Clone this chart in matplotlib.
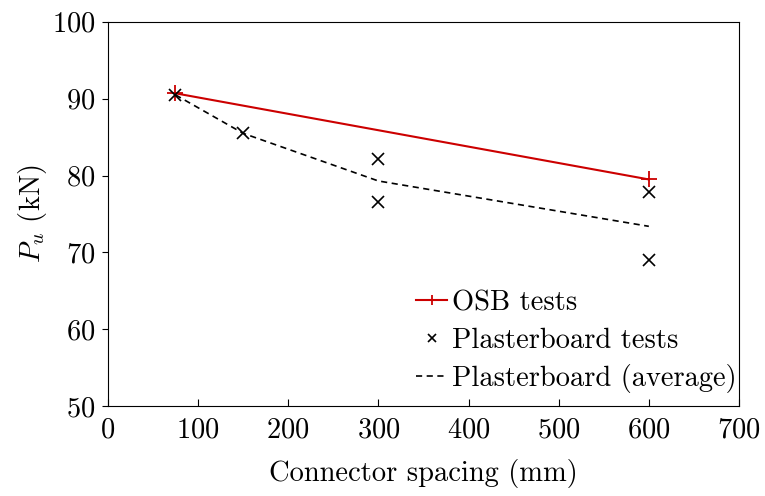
import matplotlib
matplotlib.use("Agg")
import matplotlib.pyplot as plt

plt.rcParams["font.family"] = "serif"
plt.rcParams["font.serif"] = ["cmr10"]
plt.rcParams["mathtext.fontset"] = "cm"
plt.rcParams["axes.formatter.use_mathtext"] = True
plt.rcParams["font.size"] = 20.5

# Ultimate load against connector spacing
osb_spacing = [75, 600]
osb_pu = [90.7, 79.5]

pb_spacing = [75, 150, 300, 300, 600, 600]
pb_pu = [90.5, 85.5, 82.1, 76.5, 77.8, 69.0]

avg_spacing = [75, 150, 300, 600]
avg_pu = [90.5, 85.5, 79.3, 73.4]

fig, ax = plt.subplots(figsize=(7.65, 4.96), dpi=100)

ax.plot(osb_spacing, osb_pu, color="#cc0000", lw=1.5, marker="+", ms=12,
        mew=1.3, label="OSB tests")
ax.plot(pb_spacing, pb_pu, ls="none", color="black", marker="x", ms=9,
        mew=1.2, label="Plasterboard tests")
ax.plot(avg_spacing, avg_pu, color="black", ls=(0, (3.7, 2.7)), lw=1.2,
        label="Plasterboard (average)")

ax.set_xlim(0, 700)
ax.set_ylim(50, 100)
ax.set_xticks(range(0, 701, 100))
ax.set_yticks(range(50, 101, 10))
ax.tick_params(axis="x", direction="in", length=5, width=0.8, pad=8)
ax.tick_params(axis="y", direction="out", length=4, width=0.8, pad=5)
ax.set_xlabel("Connector spacing (mm)", labelpad=11)
ax.set_ylabel("$P_u$ (kN)", labelpad=2)

handles, labels = ax.get_legend_handles_labels()
leg = ax.legend(handles, labels, loc="lower right", bbox_to_anchor=(1.016, 0),
                frameon=False, handlelength=1.1, handletextpad=0.15,
                labelspacing=0.38, borderaxespad=0.1, borderpad=0.35,
                markerscale=0.6)

fig.subplots_adjust(left=0.141, right=0.966, top=0.956, bottom=0.181)
fig.savefig("out.png", dpi=100)
